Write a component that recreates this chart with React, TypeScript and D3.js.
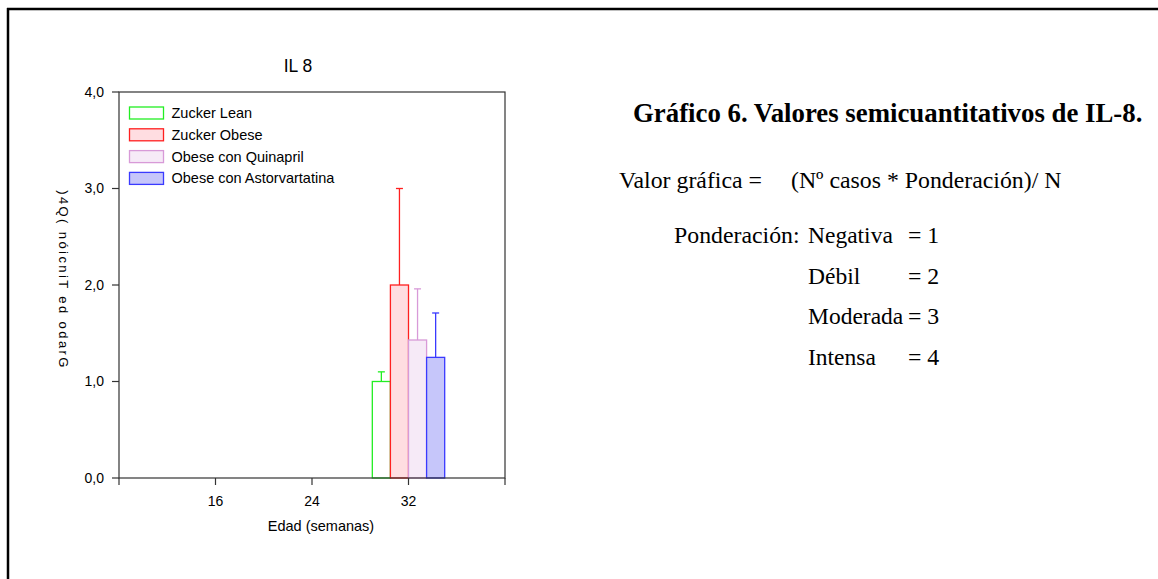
import React from 'react';
import * as d3 from 'd3';

const SERIES = ['Zucker Lean', 'Zucker Obese', 'Obese con Quinapril', 'Obese con Astorvartatina'];
const VALUES = [1.0, 2.0, 1.43, 1.25];
const ERRORS = [0.1, 1.0, 0.53, 0.46];
const STROKES = ['#22ee22', '#ff2020', '#d89ad8', '#3a3aff'];
const FILLS = ['#ffffff', '#ffdde1', '#f6eaf7', '#c6c6fa'];
const GROUP_WEEK = 32;
const X_TICKS = [16, 24, 32];
const Y_TICKS = [0, 1, 2, 3, 4];
const WEIGHTS = [
  ['Negativa', '= 1'],
  ['Débil', '= 2'],
  ['Moderada', '= 3'],
  ['Intensa', '= 4'],
];

const plot = { left: 119, right: 505, top: 92, bottom: 478 };
const sans = '"Liberation Sans", Arial, sans-serif';
const serif = '"Liberation Serif", "Times New Roman", serif';
const axisColor = '#333';

const fmt = (d: number) => d3.format('.1f')(d).replace('.', ',');

export default function App() {
  const x = d3.scaleLinear().domain([8, 40]).range([plot.left, plot.right]);
  const y = d3.scaleLinear().domain([0, 4]).range([plot.bottom, plot.top]);
  const band = d3.scaleBand()
    .domain(SERIES)
    .range([x(GROUP_WEEK - 3), x(GROUP_WEEK + 3)]);

  // the source renders this label reversed, glyphs turned clockwise
  const yLabel = 'Grado de Tinción (Q4)'.split('').reverse().join('');

  return (
    <svg width={1158} height={579} style={{ position: 'absolute', left: 0, top: 0, background: '#fff' }}>
      {/* page frame */}
      <line x1={7} x2={1158} y1={9} y2={9} stroke="#000" strokeWidth={2.5} />
      <line x1={8} x2={8} y1={8} y2={579} stroke="#000" strokeWidth={2.5} />

      <text x={298} y={72} fontFamily={sans} fontSize={17.5} textAnchor="middle">IL 8</text>

      {/* bars */}
      {SERIES.map((s, i) => {
        const bx = band(s) as number;
        const bw = band.bandwidth();
        const cx = bx + bw / 2;
        const top = y(VALUES[i]);
        const errTop = y(VALUES[i] + ERRORS[i]);
        return (
          <g key={s}>
            <line x1={cx} x2={cx} y1={top} y2={errTop} stroke={STROKES[i]} strokeWidth={1.3} />
            <line x1={cx - 3.5} x2={cx + 3.5} y1={errTop} y2={errTop} stroke={STROKES[i]} strokeWidth={1.3} />
            <rect x={bx} y={top} width={bw} height={plot.bottom - top}
              fill={FILLS[i]} stroke={STROKES[i]} strokeWidth={1.3} />
          </g>
        );
      })}

      {/* plot box */}
      <rect x={plot.left} y={plot.top} width={plot.right - plot.left} height={plot.bottom - plot.top}
        fill="none" stroke={axisColor} strokeWidth={1.2} />

      {/* y axis */}
      {Y_TICKS.map(t => (
        <g key={t}>
          <line x1={plot.left - 7} x2={plot.left} y1={y(t)} y2={y(t)} stroke={axisColor} strokeWidth={1.2} />
          <text x={104} y={y(t)} dy="0.35em" fontFamily={sans} fontSize={14} textAnchor="end">{fmt(t)}</text>
        </g>
      ))}

      {/* x axis */}
      {[8, ...X_TICKS, 40].map(t => (
        <line key={t} x1={x(t)} x2={x(t)} y1={plot.bottom} y2={plot.bottom + 7} stroke={axisColor} strokeWidth={1.2} />
      ))}
      {X_TICKS.map(t => (
        <text key={t} x={x(t)} y={506} fontFamily={sans} fontSize={14} textAnchor="middle">{t}</text>
      ))}
      <text x={321} y={531} fontFamily={sans} fontSize={14.5} textAnchor="middle">Edad (semanas)</text>

      <text transform="translate(59,280) rotate(90)" fontFamily={sans} fontSize={13} letterSpacing={2.4}
        textAnchor="middle">{yLabel}</text>

      {/* legend */}
      {SERIES.map((s, i) => (
        <g key={s} transform={`translate(129.5, ${107 + i * 21.8})`}>
          <rect width={34} height={12} fill={FILLS[i]} stroke={STROKES[i]} strokeWidth={1.3} />
          <text x={42} y={6} dy="0.35em" fontFamily={sans} fontSize={14.5}>{s}</text>
        </g>
      ))}

      {/* annotation */}
      <text x={633} y={122} fontFamily={serif} fontSize={26.8} fontWeight="bold">
        Gráfico 6. Valores semicuantitativos de IL-8.
      </text>
      <text x={619} y={188} fontFamily={serif} fontSize={23.8}>Valor gráfica =</text>
      <text x={791} y={188} fontFamily={serif} fontSize={23.8}>(Nº casos * Ponderación)/ N</text>
      <text x={674} y={243} fontFamily={serif} fontSize={23.8}>Ponderación:</text>
      {WEIGHTS.map(([name, val], i) => (
        <g key={name}>
          <text x={808} y={243 + i * 40.7} fontFamily={serif} fontSize={23.5}>{name}</text>
          <text x={908} y={243 + i * 40.7} fontFamily={serif} fontSize={23.8}>{val}</text>
        </g>
      ))}
    </svg>
  );
}
